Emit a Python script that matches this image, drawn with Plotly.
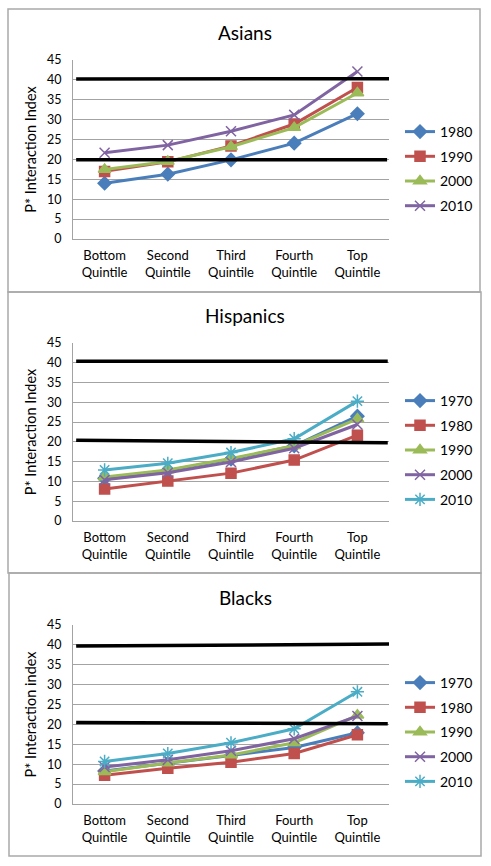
import plotly.graph_objects as go

# ---------------- data ----------------
categories = ["Bottom<br>Quintile", "Second<br>Quintile", "Third<br>Quintile",
              "Fourth<br>Quintile", "Top<br>Quintile"]

# Asians
asians_years = ["1980", "1990", "2000", "2010"]
asians_1980 = [14.0, 16.3, 19.9, 24.1, 31.5]
asians_1990 = [17.0, 19.4, 23.4, 28.9, 38.1]
asians_2000 = [17.5, 19.5, 23.2, 28.0, 36.7]
asians_2010 = [21.7, 23.6, 27.1, 31.2, 42.1]

# Hispanics
hisp_years = ["1970", "1980", "1990", "2000", "2010"]
hisp_1970 = [10.8, 12.8, 15.6, 19.0, 26.5]
hisp_1980 = [8.1, 10.1, 12.1, 15.4, 21.7]
hisp_1990 = [11.1, 12.9, 15.8, 19.0, 25.8]
hisp_2000 = [10.4, 12.2, 14.9, 18.4, 24.4]
hisp_2010 = [12.9, 14.6, 17.3, 20.8, 30.3]

# Blacks
black_years = ["1970", "1980", "1990", "2000", "2010"]
black_1970 = [8.3, 10.2, 12.2, 14.2, 17.9]
black_1980 = [7.2, 9.0, 10.5, 12.7, 17.4]
black_1990 = [8.1, 10.3, 12.3, 15.4, 22.3]
black_2000 = [9.3, 11.1, 13.4, 16.4, 22.1]
black_2010 = [10.7, 12.7, 15.4, 18.9, 28.2]

# thick black reference lines (left value, right value)
asians_ref = [[40.2, 40.3], [19.9, 19.9]]
hisp_ref = [[40.4, 40.4], [20.4, 19.8]]
black_ref = [[39.7, 40.2], [20.5, 20.2]]

panel_titles = ["Asians", "Hispanics", "Blacks"]
y_titles = ["P* Interaction Index", "P* Interaction Index", "P* Interaction index"]
y_ticks = [0, 5, 10, 15, 20, 25, 30, 35, 40, 45]

# ---------------- style ----------------
W, H = 491, 866
FONT = "Lato, 'Open Sans', sans-serif"
GRID = "#a3a3a3"
BORDER = "#a9a9a9"
STYLE = {
    "1970": dict(color="#4a7ebb", symbol="diamond", size=10),
    "1980": dict(color="#c0504d", symbol="square", size=10),
    "1990": dict(color="#9bbb59", symbol="triangle-up", size=11),
    "2000": dict(color="#8064a2", symbol="x-thin", size=10),
    "2010": dict(color="#4bacc6", symbol="asterisk", size=11),
}
ASIAN_STYLE = {
    "1980": STYLE["1970"], "1990": STYLE["1980"],
    "2000": STYLE["1990"], "2010": STYLE["2000"],
}


def px(x):
    return x / W


def py(y):
    return 1 - y / H


panels = [
    dict(series=list(zip(asians_years, [asians_1980, asians_1990, asians_2000, asians_2010])),
         styles=ASIAN_STYLE, ref=asians_ref, ytop=60, ybot=239, box=(8, 9, 480, 292),
         title_y=32, legend_top=116, ref_x=[(-0.45, 4.55), (-0.45, 4.47)]),
    dict(series=list(zip(hisp_years, [hisp_1970, hisp_1980, hisp_1990, hisp_2000, hisp_2010])),
         styles=STYLE, ref=hisp_ref, ytop=343, ybot=521, box=(8, 292, 481, 573),
         title_y=315, legend_top=385, ref_x=[(-0.45, 4.48), (-0.45, 4.48)]),
    dict(series=list(zip(black_years, [black_1970, black_1980, black_1990, black_2000, black_2010])),
         styles=STYLE, ref=black_ref, ytop=625, ybot=804, box=(9, 573, 481, 856),
         title_y=597, legend_top=667, ref_x=[(-0.45, 4.5), (-0.45, 4.48)]),
]

fig = go.Figure()
layout = dict(width=W, height=H, margin=dict(l=0, r=0, t=0, b=0, pad=0, autoexpand=False),
              paper_bgcolor="white", plot_bgcolor="white",
              font=dict(family=FONT, color="black"), shapes=[], annotations=[])

for i, p in enumerate(panels):
    n = i + 1
    xa = "x" if n == 1 else f"x{n}"
    ya = "y" if n == 1 else f"y{n}"
    lg = "legend" if n == 1 else f"legend{n}"
    for name, vals in p["series"]:
        st = p["styles"][name]
        fig.add_trace(go.Scatter(
            x=categories, y=vals, name=name, mode="lines+markers",
            xaxis=xa, yaxis=ya, legend=lg, legendgroup=f"{n}-{name}",
            line=dict(color=st["color"], width=3),
            marker=dict(color=st["color"], symbol=st["symbol"], size=st["size"],
                        line=dict(color=st["color"], width=1.5)),
        ))
    dom_x = [px(73), px(389)]
    dom_y = [py(p["ybot"]), py(p["ytop"])]
    layout["xaxis" if n == 1 else f"xaxis{n}"] = dict(
        domain=dom_x, anchor=ya, type="category", range=[-0.5, 4.5],
        showgrid=False, showline=True, linecolor=GRID, linewidth=1, automargin=False,
        ticks="", tickfont=dict(size=13), ticklabelstandoff=4, fixedrange=True)
    layout["yaxis" if n == 1 else f"yaxis{n}"] = dict(
        domain=dom_y, anchor=xa, range=[0, 45], tickvals=y_ticks, automargin=False,
        showgrid=True, gridcolor=GRID, gridwidth=1, zeroline=False,
        showline=True, linecolor=GRID, linewidth=1, ticks="",
        tickfont=dict(size=12.5), ticklabelstandoff=8,
        title=dict(text=y_titles[i], font=dict(size=14.5), standoff=6), fixedrange=True)
    layout[lg] = dict(x=px(400), y=py(p["legend_top"]), xanchor="left", yanchor="top",
                      font=dict(size=14), bgcolor="rgba(0,0,0,0)", tracegroupgap=3.5,
                      itemwidth=30)
    for (v0, v1), (x0, x1) in zip(p["ref"], p["ref_x"]):
        layout["shapes"].append(dict(type="line", xref=xa, yref=ya, x0=x0, x1=x1,
                                     y0=v0, y1=v1, line=dict(color="black", width=3.5)))
    bx0, by0, bx1, by1 = p["box"]
    layout["shapes"].append(dict(type="rect", xref="paper", yref="paper",
                                 x0=px(bx0), x1=px(bx1), y0=py(by1), y1=py(by0),
                                 line=dict(color=BORDER, width=1.5)))
    layout["annotations"].append(dict(text=panel_titles[i], x=px(245), y=py(p["title_y"]),
                                      xref="paper", yref="paper", showarrow=False,
                                      xanchor="center", yanchor="middle",
                                      font=dict(size=19)))

fig.update_layout(**layout)
fig.write_html("out.html", config={"displayModeBar": False},
               post_script="document.body.style.margin='0';document.body.style.overflow='hidden';")
